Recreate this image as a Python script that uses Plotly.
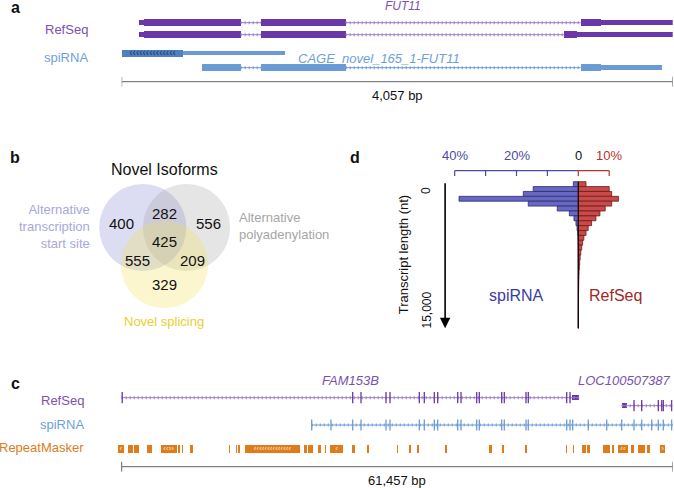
import plotly.graph_objects as go

W, H = 674, 488
FONT = "Liberation Sans, Arial, Helvetica, sans-serif"

# ------------------------------------------------------------------ data
# (a) FUT11 locus, positions in bp inside the 4,057 bp window
a_window_bp = 4057
a_ref1_exons = [(130, 876), (1026, 1649), (3380, 4057)]
a_ref1_cds = (166, 3527)
a_ref2_exons = [(130, 876), (1026, 1649), (3259, 4057)]
a_ref2_cds = (166, 3355)
a_spi1_exons = [(0, 1202)]
a_spi1_cds = (0, 454)
a_spi2_exons = [(589, 876), (1026, 1649), (3380, 3976)]
a_spi2_cds = (589, 3527)
a_gene_label = "FUT11"
a_novel_label = "CAGE_novel_165_1-FUT11"
a_scale_label = "4,057 bp"

# (b) Venn diagram of novel isoforms
venn_title = "Novel Isoforms"
venn_set_labels = ["Alternative<br>transcription<br>start site",
                   "Alternative<br>polyadenylation",
                   "Novel splicing"]
venn_regions = ["TSS", "TSS&PA", "PA", "TSS&PA&NS", "TSS&NS", "PA&NS", "NS"]
venn_counts = [400, 282, 556, 425, 555, 209, 329]

# (c) FAM153B locus, positions in bp inside the 61,457 bp window
c_window_bp = 61457
c_fam_span = (0, 51041)
c_fam_exons = [60, 25766, 26692, 29480, 29927, 33194, 33752, 34868, 35247,
               37477, 37846, 39597, 39887, 42385, 42675, 45096, 45352,
               49635, 50004]
c_fam_block = (50193, 51041)
c_loc_span = (55770, 61457)
c_loc_block = (55770, 56327)
c_loc_exons = [57142, 58000, 59852, 60231, 60410, 61347]
c_spi_span = (21193, 61457)
c_spi_exons = [21193, 23345, 25766, 26692, 29480, 29927, 33194, 33752,
               34868, 35247, 37477, 37846, 39597, 39887, 42385, 42675,
               45096, 45352, 49635, 50004, 50300, 52045, 54097, 55770,
               57142, 58000, 59116, 59852, 60410, 61347]
c_rmsk_start = [-446, 736, 1405, 2789, 4350, 6313, 6692, 7618, 12002, 12749,
                13006, 13752, 20333, 20814, 21929, 22680, 23234, 25654,
                27327, 30674, 32079, 32972, 36061, 41002, 42385, 44984,
                49557, 50372, 51376, 51866, 53718, 54655, 55391, 56774,
                57622, 58626, 60042]
c_rmsk_end = [257, 1227, 1963, 3346, 6135, 6503, 6871, 7986, 12113, 12894,
              13195, 19887, 20635, 21371, 22196, 22788, 24717, 26022,
              27584, 30785, 32235, 33195, 36318, 41270, 42641, 45241,
              49669, 50484, 51755, 52234, 54465, 54945, 56440, 57142,
              58370, 58927, 60600]
c_rmsk_chevrons = {0: "‹", 4: "‹‹››", 11: "‹‹‹‹‹‹‹‹‹‹‹‹‹‹", 16: "‹",
                   32: "‹‹", 36: "›"}
c_gene1_label = "FAM153B"
c_gene2_label = "LOC100507387"
c_scale_label = "61,457 bp"

# (d) transcript length distributions (% of transcripts per 500 nt bin)
d_bin_start_nt = [0, 500, 1000, 1500, 2000, 2500, 3000, 3500, 4000, 4500,
                  5000, 5500, 6000, 6500, 7000, 7500, 8000, 8500, 9000, 9500,
                  10000, 10500, 11000, 11500, 12000, 12500, 13000, 13500,
                  14000, 14500]
d_bin_width_nt = 500
d_spirna_pct = [1.6, 14.6, 17.8, 38.6, 16.2, 6.8, 2.9, 1.4, 0.75, 0.4,
                0.2, 0.1, 0.05, 0.03, 0.02, 0, 0, 0, 0, 0,
                0, 0, 0, 0, 0, 0, 0, 0, 0, 0]
d_refseq_pct = [2.5, 10.0, 10.8, 13.0, 10.8, 8.7, 7.0, 5.7, 4.3, 3.2,
                2.5, 1.8, 1.4, 1.1, 0.8, 0.6, 0.45, 0.35, 0.25, 0.2,
                0.15, 0.12, 0.1, 0.08, 0.06, 0.05, 0.04, 0.03, 0.02, 0.02]
d_top_ticks_spi = [-40, -30, -20, -10]
d_top_ticks_ref = [0, 10]
d_tick_labels = [("40%", -40), ("20%", -20), ("0", 0), ("10%", 10)]

# ------------------------------------------------------------------ style / layout
PURPLE = "#6a36a8"
PURPLE_TXT = "#7b50b0"
PURPLE_INTRON = "#9b7cca"
BLUE = "#6a9bd4"
BLUE_DARK = "#4f80bf"
BLUE_TXT = "#6e9fd8"
ORANGE = "#e07b1a"
GRAY = "#666666"
D_BLUE = "#4a4aa6"
D_RED = "#b83030"

rows_a = {"ref1": 22.7, "ref2": 34.7, "spi1": 53.3, "spi2": 67.7, "scale": 81.7}
rows_c = {"fam": 397.7, "loc": 405.7, "spi": 425.0, "rmsk": 449.0, "scale": 466.7}

fig = go.Figure()


def px(x):
    return x / W


def py(y):
    return 1 - y / H


def add_transcript(exons, cds, y, color, intron_color, xa, ya,
                   thick=7.5, thin=4.5, cds_color=None):
    cds_color = cds_color or color
    xs, ys = [], []
    for (s1, e1), (s2, e2) in zip(exons[:-1], exons[1:]):
        xs += [e1, s2, None]
        ys += [y, y, None]
    if xs:
        fig.add_trace(go.Scatter(x=xs, y=ys, mode="lines",
                                 line=dict(color=intron_color, width=1),
                                 xaxis=xa, yaxis=ya, hoverinfo="skip"))
        fig.add_trace(go.Scatter(x=xs, y=ys, mode="lines",
                                 line=dict(color=intron_color, width=3,
                                           dash="1px,3px"),
                                 xaxis=xa, yaxis=ya, hoverinfo="skip"))
    tb, tl, kb, kl = [], [], [], []
    for s, e in exons:
        cs, ce = max(s, cds[0]), min(e, cds[1])
        if cs < ce:
            kb.append(cs)
            kl.append(ce - cs)
            if s < cs:
                tb.append(s)
                tl.append(cs - s)
            if ce < e:
                tb.append(ce)
                tl.append(e - ce)
        else:
            tb.append(s)
            tl.append(e - s)
    if tb:
        fig.add_trace(go.Bar(orientation="h", base=tb, x=tl, y=[y] * len(tb),
                             width=thin, marker=dict(color=color, line_width=0),
                             xaxis=xa, yaxis=ya, hoverinfo="skip"))
    if kb:
        fig.add_trace(go.Bar(orientation="h", base=kb, x=kl, y=[y] * len(kb),
                             width=thick, marker=dict(color=cds_color, line_width=0),
                             xaxis=xa, yaxis=ya, hoverinfo="skip"))


def add_scale(span, y, xa, ya):
    fig.add_trace(go.Scatter(x=[span[0], span[1]], y=[y, y], mode="lines",
                             line=dict(color=GRAY, width=1),
                             xaxis=xa, yaxis=ya, hoverinfo="skip"))
    fig.add_trace(go.Scatter(x=[span[0], span[1]], y=[y, y], mode="markers",
                             marker=dict(symbol="line-ns", size=7,
                                         line=dict(color=GRAY, width=1)),
                             xaxis=xa, yaxis=ya, hoverinfo="skip"))


def ann(text, x, y, size, color, xanchor="center", angle=0, align="center"):
    fig.add_annotation(text=text, x=px(x), y=py(y), xref="paper", yref="paper",
                       showarrow=False, xanchor=xanchor, yanchor="middle",
                       align=align, textangle=angle,
                       font=dict(family=FONT, size=size, color=color))


# ------------------------------------------------------------------ panel a
add_transcript(a_ref1_exons, a_ref1_cds, rows_a["ref1"], PURPLE, PURPLE_INTRON, "x", "y")
add_transcript(a_ref2_exons, a_ref2_cds, rows_a["ref2"], PURPLE, PURPLE_INTRON, "x", "y")
add_transcript(a_spi1_exons, a_spi1_cds, rows_a["spi1"], BLUE, BLUE, "x", "y",
               thick=6.5, thin=3.8, cds_color=BLUE_DARK)
add_transcript(a_spi2_exons, a_spi2_cds, rows_a["spi2"], BLUE, BLUE, "x", "y")
fig.add_trace(go.Scatter(x=[(a_spi1_cds[0] + a_spi1_cds[1]) / 2], y=[rows_a["spi1"]],
                         mode="text", text=["‹" * 14],
                         textfont=dict(family=FONT, size=10, color="#1c3563"),
                         xaxis="x", yaxis="y", hoverinfo="skip"))
add_scale((0, a_window_bp), rows_a["scale"], "x", "y")
fig.add_annotation(text=a_scale_label, x=a_window_bp / 2, y=95, xref="x", yref="y",
                   showarrow=False, font=dict(family=FONT, size=13, color="#111"))
ann("<i>%s</i>" % a_gene_label, 403, 6.5, 12, PURPLE_TXT)
ann("<i>%s</i>" % a_novel_label, 296, 58.3, 13, BLUE_TXT, xanchor="left")
ann("RefSeq", 90, 29.5, 13, PURPLE_TXT, xanchor="right")
ann("spiRNA", 90, 58, 13, BLUE_TXT, xanchor="right")

# ------------------------------------------------------------------ panel c
for span, exons, y, col, icol in [
        (c_fam_span, c_fam_exons, rows_c["fam"], PURPLE, PURPLE_INTRON),
        (c_loc_span, c_loc_exons, rows_c["loc"], PURPLE, PURPLE_INTRON),
        (c_spi_span, c_spi_exons, rows_c["spi"], BLUE, BLUE)]:
    fig.add_trace(go.Scatter(x=[span[0], span[1]], y=[y, y], mode="lines",
                             line=dict(color=icol, width=1),
                             xaxis="x2", yaxis="y2", hoverinfo="skip"))
    fig.add_trace(go.Scatter(x=[span[0], span[1]], y=[y, y], mode="lines",
                             line=dict(color=icol, width=3, dash="1px,3px"),
                             xaxis="x2", yaxis="y2", hoverinfo="skip"))
    fig.add_trace(go.Scatter(x=exons, y=[y] * len(exons), mode="markers",
                             marker=dict(symbol="line-ns", size=8,
                                         line=dict(color=col, width=1.3)),
                             xaxis="x2", yaxis="y2", hoverinfo="skip"))
for blk, y in [(c_fam_block, rows_c["fam"]), (c_loc_block, rows_c["loc"])]:
    fig.add_trace(go.Bar(orientation="h", base=[blk[0]], x=[blk[1] - blk[0]], y=[y],
                         width=5.5, marker=dict(color=PURPLE, line_width=0),
                         xaxis="x2", yaxis="y2", hoverinfo="skip"))
fig.add_trace(go.Bar(orientation="h", base=c_rmsk_start,
                     x=[e - s for s, e in zip(c_rmsk_start, c_rmsk_end)],
                     y=[rows_c["rmsk"]] * len(c_rmsk_start), width=8,
                     marker=dict(color=ORANGE, line_width=0),
                     xaxis="x2", yaxis="y2", hoverinfo="skip"))
chev_idx = list(c_rmsk_chevrons.keys())
fig.add_trace(go.Scatter(x=[(c_rmsk_start[i] + c_rmsk_end[i]) / 2 for i in chev_idx],
                         y=[rows_c["rmsk"]] * len(chev_idx), mode="text",
                         text=[c_rmsk_chevrons[i] for i in chev_idx],
                         textfont=dict(family=FONT, size=8, color="#fde9d4"),
                         xaxis="x2", yaxis="y2", hoverinfo="skip"))
add_scale((0, c_window_bp), rows_c["scale"], "x2", "y2")
fig.add_annotation(text=c_scale_label, x=c_window_bp / 2, y=480.7, xref="x2", yref="y2",
                   showarrow=False, font=dict(family=FONT, size=13, color="#111"))
ann("<i>%s</i>" % c_gene1_label, 350.5, 380, 13, PURPLE_TXT)
ann("<i>%s</i>" % c_gene2_label, 673, 380, 13, PURPLE_TXT, xanchor="right")
ann("RefSeq", 86, 400, 13, PURPLE_TXT, xanchor="right")
ann("spiRNA", 86, 424.3, 13, BLUE_TXT, xanchor="right")
ann("RepeatMasker", 86, 447.7, 13, ORANGE, xanchor="right")

# ------------------------------------------------------------------ panel b
circles = [((142.8, 227.5), 43.6, "rgba(140,140,212,0.30)"),
           ((186.5, 227.5), 43.6, "rgba(150,150,150,0.25)"),
           ((164.5, 264.6), 43.7, "rgba(242,226,92,0.30)")]
for (cx, cy), r, fc in circles:
    fig.add_shape(type="circle", xref="paper", yref="paper",
                  x0=px(cx - r), x1=px(cx + r), y0=py(cy + r), y1=py(cy - r),
                  fillcolor=fc, line_width=0, layer="below")
venn_pos = {"TSS": (121.7, 223), "TSS&PA": (164.3, 213.5), "PA": (208.3, 223),
            "TSS&PA&NS": (164.3, 241), "TSS&NS": (137.7, 260), "PA&NS": (192.7, 260),
            "NS": (164.3, 284)}
for reg, cnt in zip(venn_regions, venn_counts):
    x, y = venn_pos[reg]
    ann(str(cnt), x, y, 15, "#111111")
ann(venn_title, 164, 169.5, 16, "#111111")
ann(venn_set_labels[0], 92, 226, 13, "#a8a8d8", xanchor="right", align="right")
ann(venn_set_labels[1], 237, 225.5, 13, "#a6a6a6", xanchor="left", align="left")
ann(venn_set_labels[2], 164.3, 321.7, 13, "#e8d030")

# ------------------------------------------------------------------ panel d
centers = [b + d_bin_width_nt / 2 for b in d_bin_start_nt]
fig.add_trace(go.Scatter(x=[0, 0], y=[0, d_bin_start_nt[-1] + d_bin_width_nt],
                         mode="lines", line=dict(color="black", width=1),
                         xaxis="x3", yaxis="y3", hoverinfo="skip"))
fig.add_trace(go.Bar(orientation="h", y=centers, x=[-v for v in d_spirna_pct],
                     width=d_bin_width_nt,
                     marker=dict(color="#6868c2", line=dict(color="#2c2c6e", width=0.8)),
                     xaxis="x3", yaxis="y3", hoverinfo="skip"))
fig.add_trace(go.Bar(orientation="h", y=centers, x=d_refseq_pct,
                     width=d_bin_width_nt,
                     marker=dict(color="#c94a4a", line=dict(color="#6e1a1a", width=0.8)),
                     xaxis="x3", yaxis="y3", hoverinfo="skip"))
top_y, tick_y = -1125, -583
for ticks, col in [(d_top_ticks_spi + [0], D_BLUE), (d_top_ticks_ref, D_RED)]:
    fig.add_trace(go.Scatter(x=[ticks[0], ticks[-1]], y=[top_y, top_y], mode="lines",
                             line=dict(color=col, width=1.2),
                             xaxis="x3", yaxis="y3", hoverinfo="skip"))
tx, ty = [], []
for t in d_top_ticks_spi:
    tx += [t, t, None]
    ty += [top_y, tick_y, None]
fig.add_trace(go.Scatter(x=tx, y=ty, mode="lines", line=dict(color=D_BLUE, width=1.2),
                         xaxis="x3", yaxis="y3", hoverinfo="skip"))
tx, ty = [], []
for t in d_top_ticks_ref:
    tx += [t, t, None]
    ty += [top_y, tick_y, None]
fig.add_trace(go.Scatter(x=tx, y=ty, mode="lines", line=dict(color=D_RED, width=1.2),
                         xaxis="x3", yaxis="y3", hoverinfo="skip"))
for lab, v in d_tick_labels:
    col = D_BLUE if v < 0 else (D_RED if v > 0 else "#111111")
    fig.add_annotation(text=lab, x=v, y=py(155), xref="x3", yref="paper",
                       showarrow=False, yanchor="middle",
                       font=dict(family=FONT, size=13, color=col))
fig.add_annotation(text="", x=-43.1, y=15000, ax=-43.1, ay=0,
                   xref="x3", yref="y3", axref="x3", ayref="y3",
                   showarrow=True, arrowhead=2, arrowsize=1.3, arrowwidth=1.6,
                   arrowcolor="black")
ann("0", 426, 190, 12, "#111111", angle=-90)
ann("15,000", 426, 309.5, 12, "#111111", angle=-90)
ann("Transcript length (nt)", 403.3, 255, 13, "#111111", angle=-90)
ann("spiRNA", 516.7, 295, 16, "#3c3ca0")
ann("RefSeq", 615, 295, 16, "#a02828")

# ------------------------------------------------------------------ panel letters
for letter, x, y in [("a", 15, 7.5), ("b", 15, 157), ("c", 15, 383.5), ("d", 355, 157)]:
    ann("<b>%s</b>" % letter, x, y, 16, "#111111")

# ------------------------------------------------------------------ axes
hidden = dict(visible=False, showgrid=False, zeroline=False, fixedrange=True)
fig.update_layout(
    width=W, height=H, margin=dict(l=0, r=0, t=0, b=0),
    paper_bgcolor="white", plot_bgcolor="rgba(0,0,0,0)",
    showlegend=False, barmode="overlay", bargap=0,
    xaxis=dict(domain=[px(121.7), px(672.7)], range=[0, a_window_bp], **hidden),
    yaxis=dict(domain=[py(110), py(0)], range=[110, 0], **hidden),
    xaxis2=dict(domain=[px(117.2), px(672.7)], range=[-500, c_window_bp],
                anchor="y2", **hidden),
    yaxis2=dict(domain=[py(488), py(360)], range=[488, 360], anchor="x2", **hidden),
    xaxis3=dict(domain=[px(439.25), px(623.1)], range=[-45, 14.5], anchor="y3", **hidden),
    yaxis3=dict(domain=[py(331.2), py(168.0)], range=[15300, -1400], anchor="x3", **hidden),
)
fig.write_html("out.html", config={"staticPlot": True},
               post_script="document.body.style.margin='0';"
                           "document.body.style.overflow='hidden';")
